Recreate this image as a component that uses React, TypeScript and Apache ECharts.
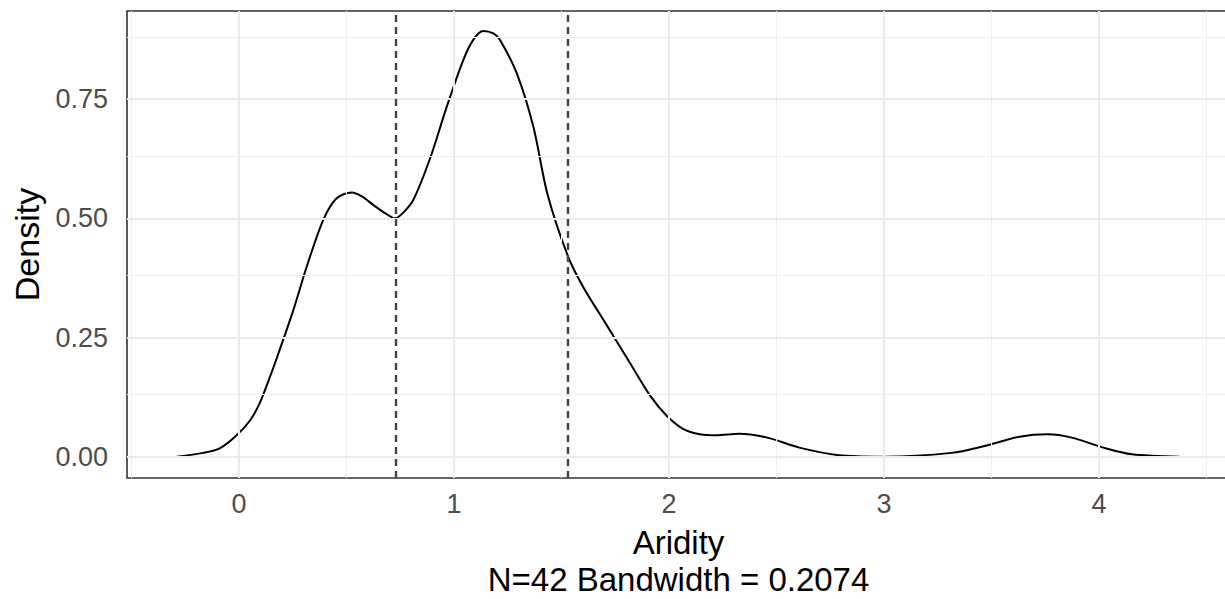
import React, { useEffect, useRef } from "react";
import * as echarts from "echarts";

// Kernel density estimate of Aridity
const aridityX = [
  -0.29, -0.166, -0.088, -0.011, 0.051, 0.098, 0.136, 0.175, 0.253, 0.315, 0.392, 0.454, 0.524,
  0.571, 0.625, 0.679, 0.726, 0.764, 0.811, 0.888, 0.966, 1.043, 1.09, 1.136, 1.183, 1.214,
  1.292, 1.369, 1.435, 1.532, 1.602, 1.71, 1.819, 1.912, 1.989, 2.067, 2.144, 2.22, 2.326,
  2.457, 2.606, 2.79, 3.0, 3.314, 3.463, 3.631, 3.761, 3.873, 4.02, 4.153, 4.376,
];
const densityY = [
  0.0, 0.008, 0.018, 0.045, 0.076, 0.114, 0.158, 0.206, 0.308, 0.399, 0.497, 0.542, 0.554,
  0.546, 0.528, 0.511, 0.5, 0.512, 0.539, 0.625, 0.734, 0.832, 0.875, 0.893, 0.888, 0.874,
  0.804, 0.692, 0.55, 0.418, 0.355, 0.276, 0.196, 0.128, 0.086, 0.058, 0.047, 0.045, 0.048,
  0.04, 0.019, 0.003, 0.0, 0.008, 0.022, 0.042, 0.047, 0.04, 0.019, 0.005, 0.0,
];
const dashedX = [0.726, 1.535];
const xTicks = [0, 1, 2, 3, 4];
const xMinor = [-0.5, 0.5, 1.5, 2.5, 3.5, 4.5];
const yTicks = [0, 0.25, 0.5, 0.75];
const yMinor = [0.125, 0.375, 0.625, 0.875];
const xRange = [-0.521, 4.609];
const yRange = [-0.0447, 0.935];
const xTitle = "Aridity";
const xSubtitle = "N=42 Bandwidth = 0.2074";
const yTitle = "Density";

const FONT = "'Liberation Sans', Arial, Helvetica, sans-serif";

export default function App() {
  const ref = useRef<HTMLDivElement>(null);
  useEffect(() => {
    document.body.style.margin = "0";
    const chart = echarts.init(ref.current!, null, { renderer: "svg" });
    const gridLine = (vals: number[], key: "xAxis" | "yAxis", width: number, color: string) =>
      vals.map((v) => ({ [key]: v, lineStyle: { width, color, type: "solid" } }));
    const option: any = {
      animation: false,
      backgroundColor: "#ffffff",
      textStyle: { fontFamily: FONT },
      grid: {
        left: 127,
        top: 11,
        right: 5,
        bottom: 121,
        containLabel: false,
        outerBoundsMode: "none",
        show: true,
        borderColor: "#333333",
        borderWidth: 1.6,
        backgroundColor: "transparent",
      },
      xAxis: {
        type: "value",
        min: xRange[0],
        max: xRange[1],
        splitLine: { show: false },
        axisLine: { show: false },
        axisTick: { show: true, customValues: xTicks, length: 7, lineStyle: { color: "#333333", width: 1.5 } },
        axisLabel: {
          customValues: xTicks,
          fontSize: 27,
          color: "#4D4D4D",
          margin: 12,
          fontFamily: FONT,
          formatter: (v: number) => String(v),
        },
        name: xTitle + "\n" + xSubtitle,
        nameLocation: "middle",
        nameGap: 46,
        nameTextStyle: { fontSize: 33, color: "#000000", lineHeight: 37, fontFamily: FONT },
      },
      yAxis: {
        type: "value",
        min: yRange[0],
        max: yRange[1],
        splitLine: { show: false },
        axisLine: { show: false },
        axisTick: { show: true, customValues: yTicks, length: 7, lineStyle: { color: "#333333", width: 1.5 } },
        axisLabel: {
          customValues: yTicks,
          fontSize: 27,
          color: "#4D4D4D",
          margin: 19,
          fontFamily: FONT,
          formatter: (v: number) => v.toFixed(2),
        },
        name: yTitle,
        nameLocation: "middle",
        nameGap: 83,
        nameTextStyle: { fontSize: 34, color: "#000000", fontFamily: FONT },
      },
      series: [
        {
          type: "line",
          data: [[0, 0]],
          showSymbol: false,
          lineStyle: { opacity: 0 },
          silent: true,
          z: 1,
          markLine: {
            silent: true,
            symbol: ["none", "none"],
            label: { show: false },
            emphasis: { disabled: true },
            data: [
              ...gridLine(xMinor, "xAxis", 1, "#EFEFEF"),
              ...gridLine(yMinor, "yAxis", 1, "#EFEFEF"),
              ...gridLine(xTicks, "xAxis", 2, "#EBEBEB"),
              ...gridLine(yTicks, "yAxis", 2, "#EBEBEB"),
            ],
          },
        },
        {
          type: "line",
          data: aridityX.map((x, i) => [x, densityY[i]]),
          smooth: 0.3,
          showSymbol: false,
          silent: true,
          z: 3,
          lineStyle: { color: "#000000", width: 2 },
        },
        {
          type: "line",
          data: [[0, 0]],
          showSymbol: false,
          lineStyle: { opacity: 0 },
          silent: true,
          z: 4,
          markLine: {
            silent: true,
            symbol: ["none", "none"],
            label: { show: false },
            emphasis: { disabled: true },
            data: dashedX.map((v) => ({
              xAxis: v,
              lineStyle: { width: 2.4, color: "#444444", type: [7, 5] },
            })),
          },
        },
      ],
    };
    chart.setOption(option);
    return () => chart.dispose();
  }, []);
  return (
    <div style={{ position: "fixed", left: 0, top: 0, width: 1225, height: 599, overflow: "hidden", background: "#fff" }}>
      <div ref={ref} style={{ width: 1235, height: 599 }} />
    </div>
  );
}
